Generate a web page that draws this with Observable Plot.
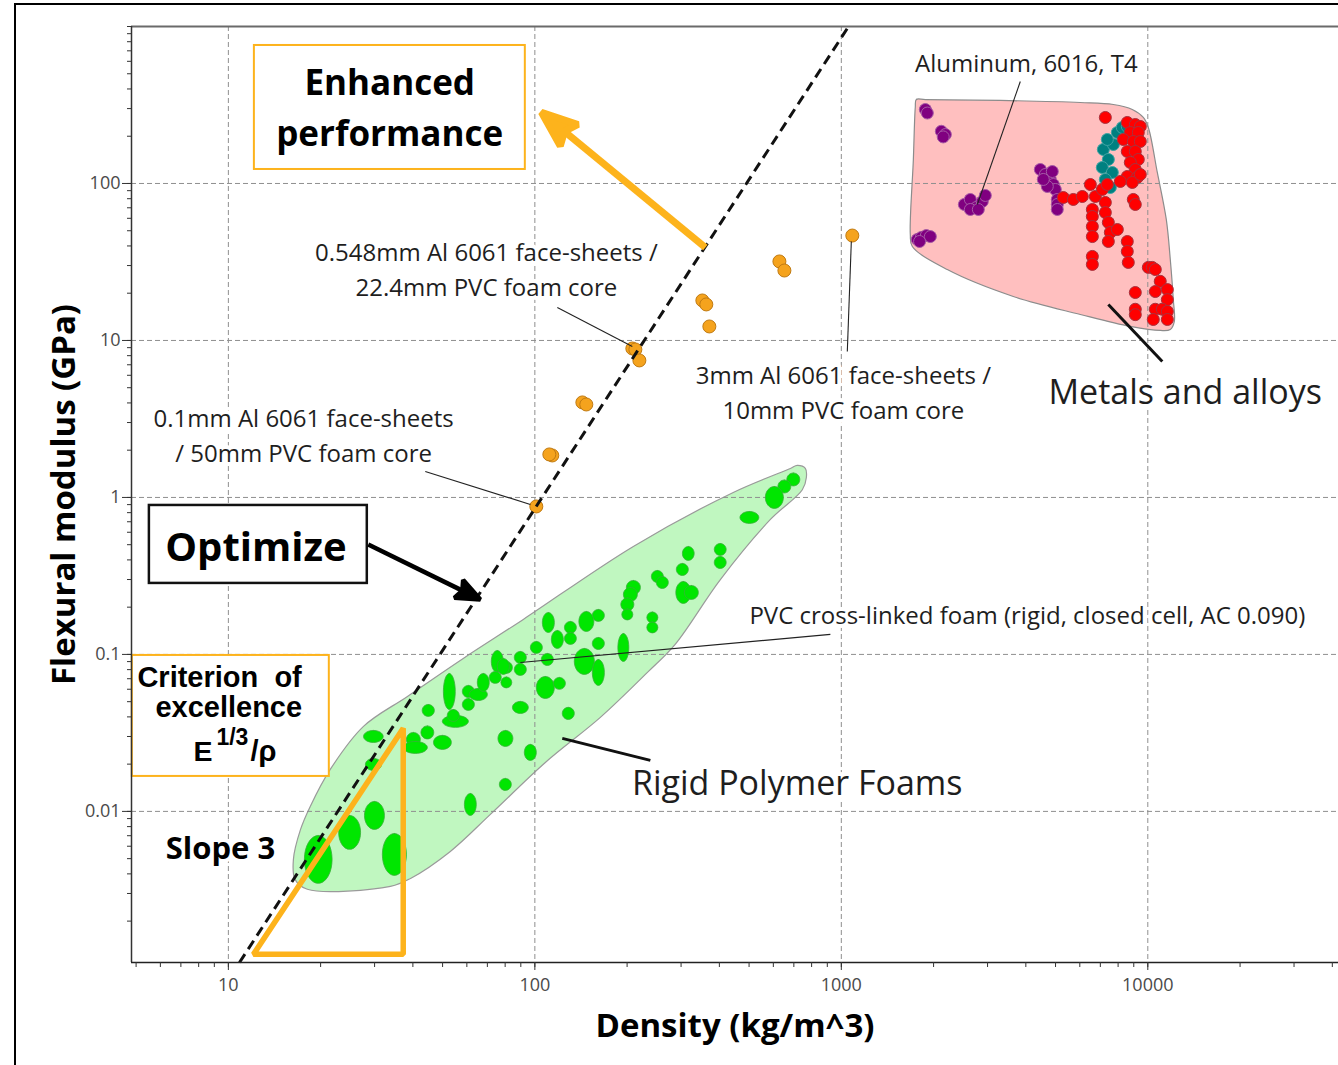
<!DOCTYPE html>
<html lang="en">
<head>
<meta charset="utf-8">
<title>Flexural modulus vs density</title>
<script src="https://cdn.jsdelivr.net/npm/d3@7"></script>
<script src="https://cdn.jsdelivr.net/npm/@observablehq/plot@0.6"></script>
<style>
  html, body { margin: 0; padding: 0; background: #fff; }
  #page { position: relative; width: 1338px; height: 1065px; overflow: hidden; background: #fff; }
  #page svg { position: absolute; left: 0; top: 0; }
  #edge { position: absolute; left: 14px; top: 3px; width: 1400px; height: 1200px;
          border-left: 2px solid #000; border-top: 2px solid #000; pointer-events: none; }
</style>
</head>
<body>
<div id="page"><div id="edge"></div></div>
<script>
// ---- Axes -------------------------------------------------------------
const densityDomain = [4.83, 41900];          // kg/m^3
const modulusDomain = [0.00109, 1000];        // GPa
const densityMajorTicks = [10, 100, 1000, 10000];
const densityTickLabels = ["10", "100", "1000", "10000"];
const modulusMajorTicks = [0.01, 0.1, 1, 10, 100];
const modulusTickLabels = ["0.01", "0.1", "1", "10", "100"];

// ---- Material family envelopes [density, modulus] ---------------------
const metalsEnvelope = [
  [1743, 305], [1757, 342.8], [1880, 342], [3302, 337.9], [6025, 328], [7715, 318.6],
  [8900, 296], [9667, 263.3], [10040, 227.3], [10740, 117.5], [11490, 59.0], [11840, 32.8],
  [12110, 18.25], [12200, 13.2], [11840, 11.75], [10990, 11.58], [8770, 12.28], [6025, 14.64],
  [3640, 19.07], [2217, 28.3], [1705, 39.7], [1679, 47.3], [1718, 142.2]
];
const foamsEnvelope = [
  [718, 1.60], [763, 1.53], [769, 1.34], [746, 1.12], [587, 0.724], [403, 0.300],
  [287, 0.116], [233, 0.0768], [163.6, 0.0397], [108.2, 0.0205], [71.6, 0.00957],
  [53.0, 0.00556], [39.3, 0.00374], [33.8, 0.00333], [18.1, 0.00319], [16.5, 0.00369],
  [16.3, 0.00494], [17.2, 0.00768], [18.5, 0.01076], [21.5, 0.01851], [27.6, 0.0348],
  [38.4, 0.0540], [58.4, 0.0943], [91.7, 0.1671], [209.6, 0.4875], [444, 1.076], [682, 1.53]
];

// ---- Rigid polymer foams: [density low, density high, modulus low, modulus high]
const foamRanges = [
  [17.7, 21.8, 0.00348, 0.00703], [22.9, 27.0, 0.00573, 0.00943], [27.8, 32.3, 0.00768, 0.01158],
  [31.8, 38.1, 0.00391, 0.00724], [27.6, 32.0, 0.0275, 0.0328], [28.0, 31.6, 0.01824, 0.02176],
  [38.1, 42.3, 0.02594, 0.03186], [37.2, 44.6, 0.0234, 0.0279], [42.5, 46.8, 0.02896, 0.03505],
  [46.7, 53.4, 0.02483, 0.0305], [42.9, 47.0, 0.0403, 0.0480], [49.9, 60.7, 0.0343, 0.0409],
  [51.8, 56.7, 0.0374, 0.0446], [50.3, 55.0, 0.0446, 0.0757], [58.0, 63.5, 0.0532, 0.0635],
  [58.0, 63.5, 0.0440, 0.0524], [61.1, 70.0, 0.0509, 0.0607], [64.9, 71.0, 0.0581, 0.0757],
  [72.1, 78.9, 0.0768, 0.1060], [71.0, 77.7, 0.0654, 0.0779], [77.2, 84.5, 0.0757, 0.0902],
  [77.5, 84.1, 0.0612, 0.0719], [85.7, 93.8, 0.0876, 0.1045], [85.7, 93.8, 0.0735, 0.0876],
  [84.5, 95.2, 0.0421, 0.0502], [75.8, 84.8, 0.02594, 0.0328], [92.4, 101.1, 0.02113, 0.02673],
  [76.6, 83.8, 0.01361, 0.01623], [58.9, 64.4, 0.00943, 0.01302], [101.1, 115.8, 0.0524, 0.0724],
  [114.9, 125.8, 0.0599, 0.0714], [122.9, 134.5, 0.03855, 0.0460], [96.7, 105.8, 0.1015, 0.1210],
  [75.4, 82.6, 0.0746, 0.0943], [105.0, 114.9, 0.0851, 0.1015], [664, 732, 1.184, 1.432],
  [621, 684, 1.068, 1.292], [565, 647, 0.851, 1.175], [467, 538, 0.683, 0.814],
  [303, 331, 0.397, 0.4875], [385, 421, 0.427, 0.509], [385, 421, 0.353, 0.421],
  [289.5, 316.8, 0.3186, 0.380], [288.4, 322.8, 0.2113, 0.2917], [307.5, 341.5, 0.224, 0.275],
  [240, 262.6, 0.2874, 0.3428], [249.1, 272.6, 0.2633, 0.3140], [198.9, 221, 0.241, 0.296],
  [194.5, 216, 0.2176, 0.2672], [190.8, 210.4, 0.1893, 0.2291], [192.2, 208.8, 0.1658, 0.1949],
  [232, 252, 0.1587, 0.1865], [232, 252, 0.1371, 0.1611], [186.6, 202.6, 0.0902, 0.1361],
  [154, 168.6, 0.1623, 0.1935], [139.2, 155.8, 0.1401, 0.1879], [124.9, 136.6, 0.1361, 0.1623],
  [124.9, 136.6, 0.1158, 0.1380], [113.2, 123.9, 0.1092, 0.1422], [105.8, 115.8, 0.1380, 0.1851],
  [154, 168.6, 0.1076, 0.1283], [134.5, 156.4, 0.0746, 0.1092], [154, 168.6, 0.0635, 0.0929]
];

// ---- Metals and alloys [density, modulus] -----------------------------
const metalsPurple = [
  [1880, 296], [1908, 281], [2120, 215], [2185, 205], [2150, 198],
  [2520, 73.5], [2636, 79.1], [2758, 70.3], [2884, 76.8], [2950, 83.9], [2636, 68.3], [2799, 68.3],
  [1770, 44.0], [1824, 45.3], [1894, 46.6], [1952, 45.9], [1800, 42.7],
  [4460, 122.8], [4630, 114.1], [4807, 106.1], [4916, 98.5], [4991, 91.6], [4700, 95.7],
  [4560, 106.1], [4880, 119.2], [5066, 79.1], [5066, 73.5], [5066, 68.3]
];
const metalsTeal = [
  [7160, 164.7], [7434, 142.2], [7105, 126.4], [7660, 117.5], [7547, 94.3], [7954, 211.3],
  [8256, 227.3], [8572, 230.7], [7719, 177.1], [7378, 190.7], [7268, 106.1]
];
const metalsRed = [
  [7268, 263.3], [8572, 244.7], [9104, 237.5], [9452, 230.7], [8768, 211.3], [9311, 211.3],
  [8319, 190.7], [8968, 185.1], [9452, 185.1], [8572, 159.9], [9104, 159.9], [9311, 142.2],
  [8768, 136.1], [9104, 122.8], [8572, 110.8], [9241, 109.2], [8134, 103], [8901, 101.5],
  [9452, 114.1],
  [5300, 81.4], [5713, 79.1], [6113, 82.6], [6494, 98.5], [6743, 82.6], [7105, 91.6], [7378, 98.5],
  [6593, 68.3], [6593, 61.6], [6593, 53.2], [6593, 45.9], [6593, 34.3], [6593, 30.5],
  [7268, 75.7], [7268, 65.3], [7434, 56.5], [7547, 48.8], [7434, 42.7], [7954, 50.9],
  [8968, 79.1], [9104, 73.5], [8572, 42.7], [8572, 36.9], [8637, 31.4],
  [10040, 29.2], [10340, 29.2], [10580, 28.3], [10980, 23.8], [11580, 21.1], [10580, 20.5],
  [11580, 18.2], [9104, 20.2], [9104, 15.8], [9104, 14.6], [10580, 15.8], [11150, 15.8],
  [11580, 15.3], [10420, 13.6], [11580, 13.6]
];

// ---- Al 6061 / PVC foam sandwich panels [density, modulus] ------------
const sandwichPanels = [
  [101.1, 0.876], [114.0, 1.851], [111.5, 1.879], [142.9, 4.03], [147.2, 3.91],
  [208, 8.89], [212.8, 8.76], [219.3, 7.46], [352, 17.98], [362.6, 16.96], [371, 12.28],
  [628, 31.87], [652, 27.9], [1086, 46.6]
];

// ---- Guides ------------------------------------------------------------
const optimumLine = [[10.87, 0.00109], [1056, 1000]];      // E^(1/3)/rho = const
const slopeTriangle = [[12.07, 0.001228], [37.2, 0.0338], [37.2, 0.001228]];
const leaderLines = [
  [[118.4, 16.23], [208, 9.16]],
  [[43.9, 1.464], [96.7, 0.902]],
  [[1046, 8.51], [1078, 42.7]],
  [[3837, 446], [2778, 73.5]],
  [[921, 0.1341], [89.7, 0.0889]]
];
const familyLeaders = [
  [[7434, 16.96], [11150, 7.35]],
  [[122.9, 0.02917], [238.2, 0.02113]]
];
const enhancedArrow = [[360, 39.1], [125.0, 214.4]];
const optimizeArrow = [[28.6, 0.502], [58.0, 0.2549]];

const enhancedBox = [[12.16, 93.1, 122.8, 757]];
const optimizeBox = [[5.525, 28.4, 0.2833, 0.889]];
const criterionBox = [[4.86, 21.35, 0.0167, 0.0985]];

const panelNotes = [
  {text: "0.548mm Al 6061 face-sheets /\n22.4mm PVC foam core", at: [69.5, 29.4]},
  {text: "0.1mm Al 6061 face-sheets\n/ 50mm PVC foam core", at: [17.6, 2.576]},
  {text: "3mm Al 6061 face-sheets /\n10mm PVC foam core", at: [1015, 4.84]},
  {text: "Aluminum, 6016, T4", at: [4015, 607]},
  {text: "PVC cross-linked foam (rigid, closed cell, AC 0.090)", at: [4045, 0.1851]}
];
const familyNotes = [
  {text: "Metals and alloys", at: [13250, 4.61]},
  {text: "Rigid Polymer Foams", at: [718, 0.0149]}
];

// ---- Styling -----------------------------------------------------------
const sans = "'Open Sans', 'DejaVu Sans', sans-serif";
const arial = "'Liberation Sans', Arial, sans-serif";
const amber = "#fdb31c";
const gridStyle = {stroke: "#8f8f8f", strokeWidth: 1, strokeDasharray: "5,3"};
const xy = {x: d => d[0], y: d => d[1]};
const seg = {x1: d => d[0][0], y1: d => d[0][1], x2: d => d[1][0], y2: d => d[1][1]};
const box = {x1: d => d[0], x2: d => d[1], y1: d => d[2], y2: d => d[3]};
const at = {x: d => d.at[0], y: d => d.at[1], text: "text"};

// Each foam is drawn as an ellipse through its four range extremes.
const foamOutlines = foamRanges.flatMap(([dl, dh, ml, mh], id) => {
  const dm = Math.sqrt(dl * dh), mm = Math.sqrt(ml * mh);
  return [
    {id, density: dl, modulus: mm}, {id, density: dm, modulus: mh},
    {id, density: dh, modulus: mm}, {id, density: dm, modulus: ml}
  ];
});
const ellipseCurve = d3.curveCardinalClosed.tension(-0.657);

// Solid arrowhead marker; the shaft ends at the notch of the head.
function solidHead(length, half, notch) {
  return (color) => {
    const ns = "http://www.w3.org/2000/svg";
    const m = document.createElementNS(ns, "marker");
    m.setAttribute("markerUnits", "userSpaceOnUse");
    m.setAttribute("viewBox", `0 ${-half} ${length} ${2 * half}`);
    m.setAttribute("markerWidth", length);
    m.setAttribute("markerHeight", 2 * half);
    m.setAttribute("refX", notch);
    m.setAttribute("refY", 0);
    m.setAttribute("orient", "auto");
    m.setAttribute("overflow", "visible");
    const p = document.createElementNS(ns, "path");
    p.setAttribute("d", `M0,${-half}L${length},0L0,${half}L${notch},0Z`);
    p.setAttribute("fill", color);
    m.appendChild(p);
    return m;
  };
}

const minorDensity = d3.scaleLog().domain(densityDomain).ticks();
const minorModulus = d3.scaleLog().domain(modulusDomain).ticks();
const boldArial = {fontWeight: "bold", fontFamily: arial, textAnchor: "start", fill: "#000"};

const chart = Plot.plot({
  width: 1338,
  height: 1065,
  marginLeft: 131,
  marginRight: 0,
  marginTop: 26,
  marginBottom: 103,
  style: {background: "transparent", fontFamily: sans, fontSize: "18px", overflow: "visible"},
  x: {type: "log", domain: densityDomain, label: null},
  y: {type: "log", domain: modulusDomain, label: null},
  marks: [
    // family envelopes
    Plot.line(metalsEnvelope, {...xy, curve: "catmull-rom-closed", fill: "#ffbfbf", stroke: "#8c8c8c", strokeWidth: 1.2}),
    Plot.line(foamsEnvelope, {...xy, curve: "catmull-rom-closed", fill: "#c0f7c0", stroke: "#9a9a9a", strokeWidth: 1.2}),

    // grid
    Plot.ruleX(densityMajorTicks, gridStyle),
    Plot.ruleY(modulusMajorTicks, gridStyle),

    // foams
    Plot.line(foamOutlines, {x: "density", y: "modulus", z: "id", curve: ellipseCurve,
      fill: "#00e600", stroke: "#38b038", strokeWidth: 0.8}),

    // metals
    Plot.dot(metalsPurple, {...xy, r: 6, fill: "#800080", stroke: "#a55aa5", strokeWidth: 1}),
    Plot.dot(metalsTeal, {...xy, r: 6, fill: "#008080", stroke: "#3fa3a3", strokeWidth: 1}),
    Plot.dot(metalsRed, {...xy, r: 6, fill: "#ff0000", stroke: "#a8323e", strokeWidth: 1}),

    // sandwich panels
    Plot.dot(sandwichPanels, {...xy, r: 6.5, fill: "#f5a31d", stroke: "#c07a12", strokeWidth: 1}),

    // performance index line and slope marker
    Plot.link([optimumLine], {...seg, stroke: "#111", strokeWidth: 3, strokeDasharray: "10,6"}),
    Plot.line(slopeTriangle, {...xy, curve: "linear-closed", stroke: amber, strokeWidth: 5.5, strokeLinejoin: "miter"}),

    // leaders
    Plot.link(leaderLines, {...seg, stroke: "#222", strokeWidth: 1.1}),
    Plot.link(familyLeaders, {...seg, stroke: "#111", strokeWidth: 3}),

    // boxes
    Plot.rect(enhancedBox, {...box, fill: "white", stroke: amber, strokeWidth: 2}),
    Plot.rect(criterionBox, {...box, fill: "white", stroke: amber, strokeWidth: 2}),
    Plot.rect(optimizeBox, {...box, fill: "white", stroke: "#111", strokeWidth: 2.5}),

    // arrows
    Plot.link([enhancedArrow], {...seg, stroke: amber, strokeWidth: 7, markerEnd: solidHead(36, 14, 6)}),
    Plot.link([optimizeArrow], {...seg, stroke: "#000", strokeWidth: 4.5, markerEnd: solidHead(24, 10, 4)}),

    // box texts
    Plot.text(["Enhanced\nperformance"], {x: 33.6, y: 321.8, fontSize: 35, fontWeight: "bold",
      lineHeight: 1.457, fill: "#000", textAnchor: "middle", lineAnchor: "middle"}),
    Plot.text(["Optimize"], {x: 12.3, y: 0.4733, fontSize: 40, fontWeight: "bold", fill: "#000"}),
    Plot.text(["Criterion\u00a0\u00a0of"], {x: 5.05, y: 0.0706, fontSize: 29, ...boldArial}),
    Plot.text(["excellence"], {x: 5.78, y: 0.0455, fontSize: 29, ...boldArial}),
    Plot.text(["E"], {x: 7.69, y: 0.02411, fontSize: 28.5, ...boldArial}),
    Plot.text(["1/3"], {x: 9.14, y: 0.02934, fontSize: 23, ...boldArial}),
    Plot.text(["/ρ"], {x: 11.8, y: 0.02411, fontSize: 29, ...boldArial}),
    Plot.text(["Slope 3"], {x: 9.42, y: 0.00573, fontSize: 31, fontWeight: "bold", fill: "#000",
      stroke: "white", strokeWidth: 8}),

    // notes
    Plot.text(panelNotes, {...at, fontSize: 24, lineHeight: 1.46, fill: "#1e1e1e",
      stroke: "white", strokeWidth: 8, textAnchor: "middle", lineAnchor: "middle"}),
    Plot.text(familyNotes, {...at, fontSize: 34, fill: "#1e1e1e",
      stroke: "white", strokeWidth: 8, textAnchor: "middle", lineAnchor: "middle"}),

    // axis lines
    Plot.ruleY([modulusDomain[1]], {stroke: "#6a6a6a", strokeWidth: 2}),
    Plot.ruleX([densityDomain[0]], {stroke: "#333", strokeWidth: 1.5}),
    Plot.ruleY([modulusDomain[0]], {stroke: "#222", strokeWidth: 1.5}),

    // ticks
    Plot.axisX(minorDensity, {tickSize: 5, tickFormat: () => "", stroke: "#333", label: null}),
    Plot.axisX(densityMajorTicks, {tickSize: 8, tickPadding: 8, stroke: "#333", fill: "#4a4a4a",
      fontSize: 18, label: null, tickFormat: d => densityTickLabels[densityMajorTicks.indexOf(d)]}),
    Plot.axisY(minorModulus, {tickSize: 4, tickFormat: () => "", stroke: "#333", label: null}),
    Plot.axisY(modulusMajorTicks, {tickSize: 9, tickPadding: 2, stroke: "#333", fill: "#4a4a4a",
      fontSize: 18, label: null, tickFormat: d => modulusTickLabels[modulusMajorTicks.indexOf(d)]}),

    // axis titles
    Plot.text(["Density (kg/m^3)"], {frameAnchor: "bottom", dy: 64, fontSize: 33, fontWeight: "bold",
      fill: "#000", textAnchor: "middle", lineAnchor: "middle"}),
    Plot.text(["Flexural modulus (GPa)"], {frameAnchor: "left", dx: -67, rotate: -90, fontSize: 33,
      fontWeight: "bold", fill: "#000", textAnchor: "middle", lineAnchor: "middle"})
  ]
});

const page = document.getElementById("page");
page.insertBefore(chart, page.firstChild);
</script>
</body>
</html>
